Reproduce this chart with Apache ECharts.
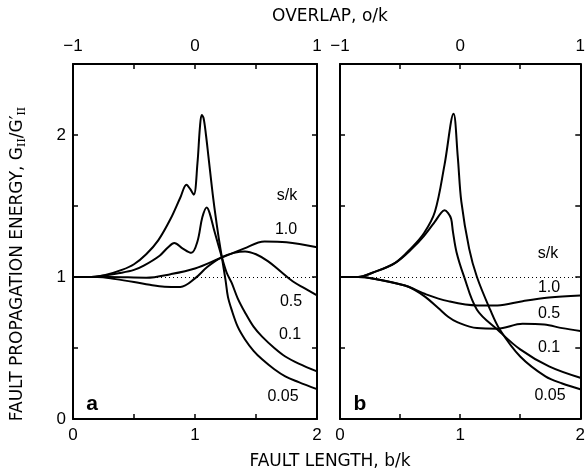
<!DOCTYPE html>
<html>
<head>
<meta charset="utf-8">
<script src="https://cdn.jsdelivr.net/npm/echarts@6/dist/echarts.min.js"></script>
<style>html,body{margin:0;padding:0;background:#fff}#c{width:588px;height:476px}</style>
</head>
<body>
<div id="c"></div>
<script>
// ---- data (x = b/k, y = G_II/G'_II) ----
const sLabels = ['1.0', '0.5', '0.1', '0.05'];
// panel a
const a_10  = [[0,1],[0.3,1.0],[0.6,0.995],[0.8,1.02],[1.0,1.06],[1.2,1.13],[1.4,1.2],[1.57,1.25],[1.75,1.245],[2.0,1.21]];
const a_05  = [[0,1],[0.2,1.0],[0.35,0.985],[0.5,0.965],[0.63,0.945],[0.75,0.932],[0.88,0.93],[1.0,0.99],[1.1,1.07],[1.22,1.14],[1.32,1.17],[1.41,1.18],[1.5,1.16],[1.6,1.11],[1.7,1.04],[1.8,0.97],[1.9,0.92],[2.0,0.87]];
const a_01  = [[0,1],[0.15,1.0],[0.25,1.01],[0.4,1.03],[0.5,1.05],[0.58,1.08],[0.71,1.15],[0.78,1.21],[0.83,1.24],[0.9,1.2],[0.97,1.17],[1.02,1.25],[1.06,1.42],[1.096,1.49],[1.12,1.45],[1.16,1.32],[1.22,1.14],[1.26,1.03],[1.3,0.96],[1.35,0.85],[1.41,0.75],[1.48,0.65],[1.55,0.58],[1.65,0.5],[1.74,0.44],[1.85,0.39],[2.0,0.335]];
const a_005 = [[0,1],[0.15,1.0],[0.25,1.01],[0.4,1.05],[0.5,1.09],[0.6,1.16],[0.7,1.26],[0.8,1.41],[0.88,1.56],[0.93,1.65],[0.96,1.62],[0.99,1.58],[1.02,1.8],[1.04,2.05],[1.055,2.14],[1.07,2.12],[1.09,2.0],[1.11,1.85],[1.15,1.55],[1.19,1.3],[1.22,1.14],[1.25,0.98],[1.27,0.86],[1.3,0.77],[1.35,0.65],[1.41,0.56],[1.48,0.48],[1.55,0.42],[1.65,0.35],[1.74,0.3],[1.85,0.26],[2.0,0.21]];
// panel b
const b_10  = [[0,1],[0.15,1.0],[0.27,0.99],[0.54,0.94],[0.71,0.88],[0.9,0.83],[1.14,0.8],[1.31,0.8],[1.52,0.83],[1.74,0.855],[2.0,0.87]];
const b_05  = [[0,1],[0.15,1.0],[0.27,0.99],[0.54,0.94],[0.62,0.91],[0.71,0.86],[0.82,0.78],[0.9,0.72],[0.98,0.68],[1.14,0.64],[1.31,0.636],[1.52,0.67],[1.7,0.665],[1.85,0.64],[2.0,0.62]];
const b_01  = [[0,1],[0.15,1.0],[0.27,1.03],[0.46,1.1],[0.6,1.2],[0.7,1.29],[0.79,1.39],[0.84,1.45],[0.87,1.47],[0.9,1.45],[0.925,1.41],[0.94,1.32],[0.97,1.175],[1.03,1.01],[1.14,0.77],[1.31,0.63],[1.5,0.49],[1.74,0.37],[2.0,0.29]];
const b_005 = [[0,1],[0.15,1.0],[0.27,1.03],[0.46,1.1],[0.6,1.21],[0.7,1.31],[0.79,1.46],[0.87,1.79],[0.945,2.15],[0.98,1.85],[1.01,1.53],[1.075,1.2],[1.14,1.0],[1.25,0.77],[1.33,0.63],[1.5,0.44],[1.71,0.3],[1.85,0.25],[2.0,0.21]];
const refLevel = 1;
// tick labels
const lengthTicks = [0, 1, 2];
const overlapTicks = [-1, 0, 1];
const energyTicks = [0, 1, 2];

const numFont = 'Liberation Sans';
const txtFont = 'DejaVu Sans';
function fmt(list) {
  return function (v) {
    const r = Math.round(v);
    if (Math.abs(v - r) < 1e-6 && list.indexOf(r) >= 0) {
      return r < 0 ? '\u2212' + Math.abs(r) : String(r);
    }
    return '';
  };
}
const axLine = { show: true, onZero: false, lineStyle: { color: '#000', width: 2 } };
const tick = { show: true, inside: true, length: 5, lineStyle: { color: '#000', width: 1.5 } };
function xBottom(grid) {
  return { type: 'value', gridIndex: grid, position: 'bottom', min: 0, max: 2, interval: 0.5,
    axisLine: axLine, axisTick: tick, splitLine: { show: false },
    axisLabel: { formatter: fmt(lengthTicks), color: '#000', fontFamily: numFont, fontSize: 17, margin: 8, showMinLabel: true, showMaxLabel: true } };
}
function xTop(grid) {
  return { type: 'value', gridIndex: grid, position: 'top', min: -1, max: 1, interval: 0.5,
    axisLine: axLine, axisTick: tick, splitLine: { show: false },
    axisLabel: { formatter: fmt(overlapTicks), color: '#000', fontFamily: numFont, fontSize: 17, margin: 9, showMinLabel: true, showMaxLabel: true } };
}
function yAx(grid, pos, labels) {
  return { type: 'value', gridIndex: grid, position: pos, min: 0, max: 2.5, interval: 0.5,
    axisLine: axLine, axisTick: tick, splitLine: { show: false },
    axisLabel: { show: labels, formatter: fmt(energyTicks), color: '#000', fontFamily: numFont, fontSize: 17, margin: 7, showMinLabel: true, showMaxLabel: true } };
}
function curve(data, xi, yi, withRef) {
  const s = { type: 'line', data: data, xAxisIndex: xi, yAxisIndex: yi, showSymbol: false, symbol: 'none',
    smooth: 0.35, lineStyle: { color: '#000', width: 2 }, silent: true, z: 3 };
  if (withRef) {
    s.markLine = { silent: true, symbol: ['none', 'none'], label: { show: false },
      lineStyle: { color: '#000', type: [1, 3], width: 1.2 }, data: [{ yAxis: refLevel }] };
  }
  return s;
}
const chart = echarts.init(document.getElementById('c'), null, { renderer: 'canvas' });
function tx(text, x, y, font) {
  return { type: 'text', x: x, y: y, style: { text: text, fill: '#000', font: font, align: 'center', verticalAlign: 'middle' } };
}
chart.setOption({
  animation: false,
  backgroundColor: '#fff',
  grid: [
    { left: 73, top: 64, width: 244, height: 355 },
    { left: 340, top: 64, width: 246, height: 355 }
  ],
  xAxis: [xBottom(0), xTop(0), xBottom(1), xTop(1)],
  yAxis: [yAx(0, 'left', true), yAx(0, 'right', false), yAx(1, 'left', false), yAx(1, 'right', false)],
  series: [
    curve(a_10, 0, 0, true), curve(a_05, 0, 0), curve(a_01, 0, 0), curve(a_005, 0, 0),
    curve(b_10, 2, 2, true), curve(b_05, 2, 2), curve(b_01, 2, 2), curve(b_005, 2, 2)
  ],
  graphic: [
    tx('OVERLAP, o/k', 330, 17, '17px "' + txtFont + '"'),
    tx('FAULT LENGTH, b/k', 330, 462, '17px "' + txtFont + '"'),
    { type: 'text', x: 18, y: 264, rotation: Math.PI / 2,
      style: { text: '{n|FAULT PROPAGATION ENERGY, G}{s|II}{n|/G\u2032}{s|II}', align: 'center', verticalAlign: 'middle',
        rich: { n: { fontFamily: txtFont, fontSize: 17, fill: '#000', color: '#000' },
                s: { fontFamily: 'DejaVu Serif', fontSize: 11, fill: '#000', color: '#000', verticalAlign: 'bottom', padding: [8, 0, 0, 0] } } } },
    tx('s/k', 287, 196, '16px "' + numFont + '"'),
    tx(sLabels[0], 286, 230, '16px "' + numFont + '"'),
    tx(sLabels[1], 291, 302, '16px "' + numFont + '"'),
    tx(sLabels[2], 290, 335, '16px "' + numFont + '"'),
    tx(sLabels[3], 283, 397, '16px "' + numFont + '"'),
    tx('s/k', 548, 254, '16px "' + numFont + '"'),
    tx(sLabels[0], 549, 288, '16px "' + numFont + '"'),
    tx(sLabels[1], 549, 314, '16px "' + numFont + '"'),
    tx(sLabels[2], 549, 348, '16px "' + numFont + '"'),
    tx(sLabels[3], 550, 396, '16px "' + numFont + '"'),
    tx('a', 92, 404, 'bold 21px "' + numFont + '"'),
    tx('b', 360, 404, 'bold 21px "' + numFont + '"')
  ]
});
</script>
</body>
</html>
